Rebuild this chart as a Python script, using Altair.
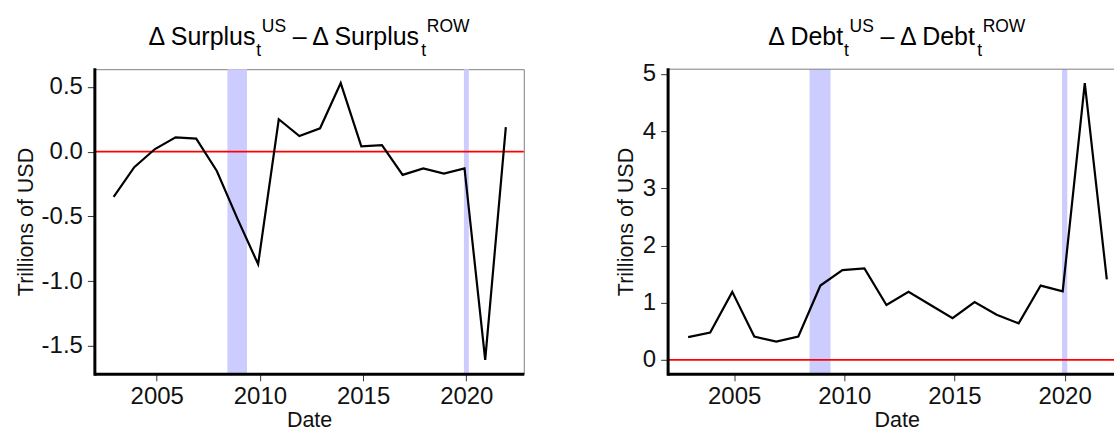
import altair as alt
import pandas as pd

# ---------------------------------------------------------------- data
# annual observations, dated at the start of December
dates = ["2002-12-01", "2003-12-01", "2004-12-01", "2005-12-01", "2006-12-01",
         "2007-12-01", "2008-12-01", "2009-12-01", "2010-12-01", "2011-12-01",
         "2012-12-01", "2013-12-01", "2014-12-01", "2015-12-01", "2016-12-01",
         "2017-12-01", "2018-12-01", "2019-12-01", "2020-12-01", "2021-12-01"]

# change in US surplus minus change in rest-of-world surplus (trillions of USD)
surplus_gap = [-0.35, -0.12, 0.02, 0.11, 0.10, -0.15, -0.52, -0.87, 0.25, 0.12,
               0.18, 0.53, 0.04, 0.05, -0.18, -0.13, -0.17, -0.13, -1.61, 0.19]

# change in US debt minus change in rest-of-world debt (trillions of USD)
debt_gap = [0.40, 0.48, 1.19, 0.41, 0.32, 0.41, 1.30, 1.57, 1.60, 0.96,
            1.19, 0.96, 0.73, 1.01, 0.79, 0.64, 1.30, 1.20, 4.84, 1.41]

# shaded recession windows
recession_start = ["2008-06-05", "2019-11-20"]
recession_end = ["2009-05-18", "2020-02-15"]

year_ticks = [2005, 2010, 2015, 2020]
surplus_ticks = [-1.5, -1.0, -0.5, 0.0, 0.5]
debt_ticks = [0, 1, 2, 3, 4, 5]

# ---------------------------------------------------------------- layout
FONT = "Liberation Sans"
PLOT_H = 305
LEFT_W = 430
RIGHT_FULL_W = 459     # full panel width; only the part that fits the page is drawn
RIGHT_W = 447


def ms(s):
    return int(pd.Timestamp(s, tz="UTC").value // 10**6)


X_START = ms("2001-12-25")
X_END = ms("2022-10-15")
X_END_RIGHT = X_START + (X_END - X_START) * RIGHT_W / RIGHT_FULL_W
TICK_VALUES = [ms(f"{y}-01-01") for y in year_ticks]

# advance widths (per 1000 em) of an Arial-metric sans
GLYPH = {"Δ": 668, " ": 278, "–": 556, "S": 667, "u": 556, "r": 333, "p": 556,
         "l": 222, "s": 500, "D": 722, "e": 556, "b": 556, "t": 278,
         "U": 722, "R": 722, "O": 778, "W": 944}


def text_width(s, size):
    return sum(GLYPH[c] for c in s) * size / 1000.0


def title_layers(word, center):
    """Δ word_t^US – Δ word_t^ROW, built from separately sized text pieces."""
    big, small = 25, 17.5
    first = "Δ " + word
    second = "– Δ " + word
    w1 = text_width(first, big)
    w2 = text_width(second, big)
    total = w1 + 36 + w2 + 5 + text_width("ROW", small)
    x0 = center - total / 2
    x2 = x0 + w1 + 36
    pieces = [
        (first, big, x0, -24.2),
        ("t", small, x0 + w1 - 0.5, -13.5),
        ("US", small, x0 + w1 + 5, -37.5),
        (second, big, x2, -24.2),
        ("t", small, x2 + w2 - 0.5, -13.5),
        ("ROW", small, x2 + w2 + 5, -37.5),
    ]
    out = []
    for txt, size, px, py in pieces:
        out.append(
            alt.Chart(pd.DataFrame({"label": [txt]}))
            .mark_text(align="left", baseline="alphabetic", fontSize=size,
                       font=FONT, color="black")
            .encode(x=alt.value(px), y=alt.value(py), text="label:N")
        )
    return out


def panel(values, ticks, label_expr, width, x_end, word, ytitle_x, center, framed):
    lo = min(min(values), 0.0)
    hi = max(max(values), 0.0)
    pad = 0.05 * (hi - lo)
    yscale = alt.Scale(domain=[lo - pad, hi + pad], nice=False, zero=False)
    xscale = alt.Scale(type="utc", domain=[X_START, x_end], nice=False)

    common = dict(domainColor="black", domainWidth=3, tickColor="#333333",
                  tickWidth=1, tickSize=7, labelFont=FONT, labelFontSize=24,
                  labelColor="#111111", titleFont=FONT, titleFontSize=21.5,
                  titleFontWeight="normal", titleColor="#111111", grid=False,
                  zindex=1)
    xaxis = alt.Axis(values=TICK_VALUES, labelExpr="utcFormat(datum.value, '%Y')",
                     title="Date", titleX=center, titleY=52.5,
                     titleBaseline="alphabetic", titleAlign="center",
                     labelPadding=4, labelFlush=False, domainCap="butt", **common)
    yaxis = alt.Axis(values=ticks, labelExpr=label_expr, title="Trillions of USD",
                     titleAngle=270, titleBaseline="alphabetic", titleAlign="center",
                     titleX=ytitle_x, titleY=PLOT_H / 2, labelPadding=5,
                     domainCap="square", **common)

    df = pd.DataFrame({"date": dates, "value": values})
    rec = pd.DataFrame({"start": recession_start, "end": recession_end})

    shade = alt.Chart(rec).mark_rect(color="#ccccff", opacity=1).encode(
        x=alt.X("start:T", scale=xscale, axis=xaxis),
        x2="end:T",
        y=alt.value(0),
        y2=alt.value(PLOT_H),
    )
    zero = alt.Chart(pd.DataFrame({"level": [0.0]})).mark_rule(
        color="#ff0000", strokeWidth=1.8
    ).encode(y=alt.Y("level:Q", scale=yscale, axis=yaxis))
    line = alt.Chart(df).mark_line(color="black", strokeWidth=2.2).encode(
        x=alt.X("date:T", scale=xscale, axis=xaxis),
        y=alt.Y("value:Q", scale=yscale, axis=yaxis),
    )

    layers = [shade, zero, line]
    if not framed:
        layers.append(
            alt.Chart(pd.DataFrame({"k": [0]}))
            .mark_rule(color="#7f7f7f", strokeWidth=1)
            .encode(x=alt.value(0), x2=alt.value(width), y=alt.value(0))
        )
    layers += title_layers(word, center)

    return alt.layer(*layers).properties(
        width=width,
        height=PLOT_H,
        view=alt.ViewBackground(stroke="#7f7f7f" if framed else "transparent",
                                strokeWidth=1),
    )


left = panel(
    surplus_gap, surplus_ticks,
    "datum.value < 0 ? '-' + format(-datum.value, '.1f') : format(datum.value, '.1f')",
    LEFT_W, X_END, "Surplus", -62.3, LEFT_W / 2, True,
)
right = panel(
    debt_gap, debt_ticks, "format(datum.value, 'd')",
    RIGHT_W, X_END_RIGHT, "Debt", -35.3, RIGHT_FULL_W / 2, False,
)

chart = (
    alt.hconcat(left, right, spacing=89)
    .properties(padding={"left": 14.5, "top": 17, "right": -2, "bottom": 0},
                background="white")
    .configure(font=FONT)
)

chart.save("out.html", embed_options={"renderer": "svg", "actions": False})
